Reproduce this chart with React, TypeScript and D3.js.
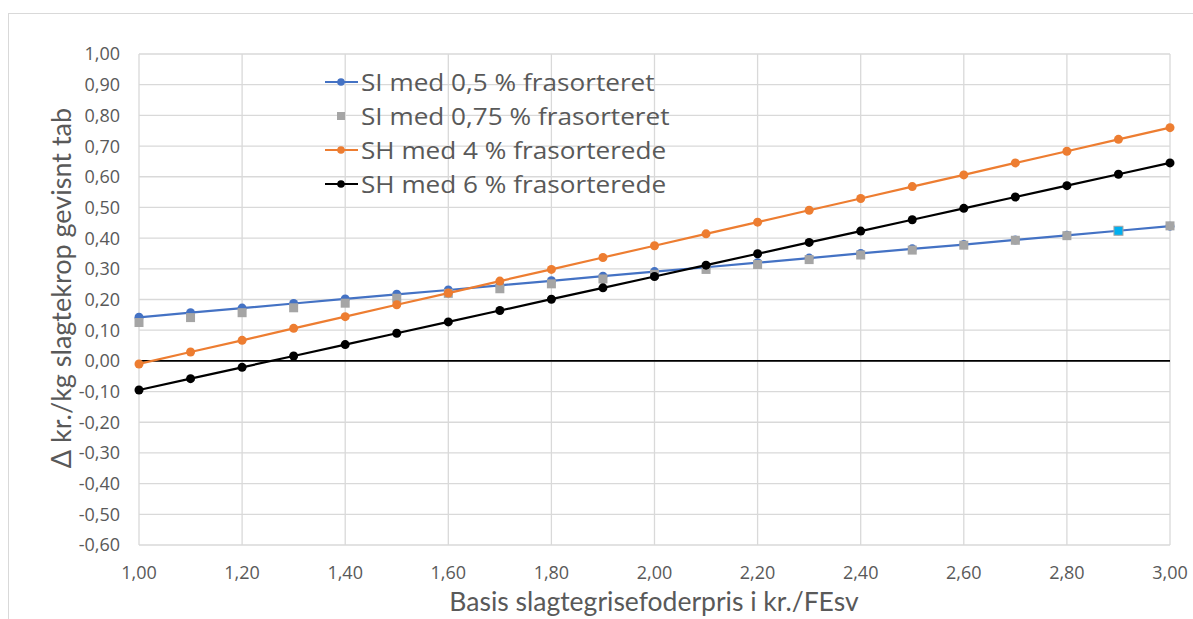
import React from "react";
import * as d3 from "d3";

const xValues = [1.0, 1.1, 1.2, 1.3, 1.4, 1.5, 1.6, 1.7, 1.8, 1.9, 2.0, 2.1, 2.2, 2.3, 2.4, 2.5, 2.6, 2.7, 2.8, 2.9, 3.0];
const siHalf = [0.142, 0.157, 0.172, 0.187, 0.202, 0.217, 0.231, 0.246, 0.261, 0.276, 0.291, 0.305, 0.32, 0.335, 0.35, 0.365, 0.379, 0.394, 0.409, 0.424, 0.439];
const siThreeQuarter = [0.125, 0.141, 0.157, 0.173, 0.188, 0.204, 0.22, 0.235, 0.251, 0.267, 0.282, 0.298, 0.314, 0.33, 0.345, 0.361, 0.377, 0.393, 0.408, 0.424, 0.44];
const shFour = [-0.01, 0.029, 0.067, 0.106, 0.144, 0.183, 0.221, 0.26, 0.298, 0.337, 0.375, 0.414, 0.452, 0.491, 0.529, 0.568, 0.606, 0.645, 0.683, 0.722, 0.76];
const shSix = [-0.095, -0.058, -0.021, 0.016, 0.053, 0.09, 0.127, 0.164, 0.201, 0.238, 0.275, 0.312, 0.349, 0.386, 0.423, 0.46, 0.497, 0.534, 0.571, 0.608, 0.645];
const seriesNames = ["SI med 0,5 % frasorteret", "SI med 0,75 % frasorteret", "SH med 4 % frasorterede", "SH med 6 % frasorterede"];
const xTicks = [1.0, 1.2, 1.4, 1.6, 1.8, 2.0, 2.2, 2.4, 2.6, 2.8, 3.0];
const yTicks = [1.0, 0.9, 0.8, 0.7, 0.6, 0.5, 0.4, 0.3, 0.2, 0.1, 0.0, -0.1, -0.2, -0.3, -0.4, -0.5, -0.6];
const highlightIndex = 19;

const fmt = (v: number) => v.toFixed(2).replace(".", ",");

export default function App() {
  const W = 1193, H = 619;
  const x = d3.scaleLinear().domain([1, 3]).range([139, 1170]);
  const y = d3.scaleLinear().domain([-0.6, 1.0]).range([545, 54]);
  const line = (vals: number[]) =>
    d3.line<number>().x((_, i) => x(xValues[i])).y((v) => y(v))(vals) || "";

  const gridColor = "#d9d9d9";
  const textColor = "#595959";
  const blue = "#4472C4", grey = "#A5A5A5", orange = "#ED7D31", black = "#000000";
  const legendY = [82, 116, 150, 184];
  const colors = [blue, grey, orange, black];
  const legendX = 361;

  return (
    <svg width={W} height={H} style={{ position: "absolute", left: 0, top: 0, background: "#fff" }}>
      <rect x={0} y={0} width={W} height={H} fill="#fff" />
      <rect x={8.5} y={13.5} width={1200} height={700} fill="none" stroke="#d9d9d9" strokeWidth={1} />
      {xTicks.map((t) => (
        <line key={"gx" + t} x1={x(t)} x2={x(t)} y1={y(1)} y2={y(-0.6)} stroke={gridColor} strokeWidth={1.3} />
      ))}
      {yTicks.map((t) => (
        <line key={"gy" + t} x1={x(1)} x2={x(3)} y1={y(t)} y2={y(t)} stroke={gridColor} strokeWidth={1.3} />
      ))}
      <line x1={x(1)} x2={x(3)} y1={y(0)} y2={y(0)} stroke="#000" strokeWidth={1.8} />
      {yTicks.map((t) => (
        <text key={"ty" + t} x={120} y={y(t)} dy="0.36em" textAnchor="end" fontFamily="'Open Sans', sans-serif" fontSize={18} fill={textColor}>
          {fmt(t)}
        </text>
      ))}
      {xTicks.map((t) => (
        <text key={"tx" + t} x={x(t)} y={579} textAnchor="middle" fontFamily="'Open Sans', sans-serif" fontSize={18} fill={textColor}>
          {fmt(t)}
        </text>
      ))}
      <text x={654} y={611} textAnchor="middle" fontFamily="Lato, sans-serif" fontSize={26.5} fill={textColor}>
        Basis slagtegrisefoderpris i kr./FEsv
      </text>
      <text transform={`translate(71,${288}) rotate(-90)`} textAnchor="middle" fontFamily="Lato, sans-serif" fontSize={27} fill={textColor}>
        Δ kr./kg slagtekrop gevisnt tab
      </text>

      {/* SI 0,5 */}
      <path d={line(siHalf)} fill="none" stroke={blue} strokeWidth={2.2} />
      {siHalf.map((v, i) => (
        <circle key={"b" + i} cx={x(xValues[i])} cy={y(v)} r={4.5} fill={blue} />
      ))}
      {/* SI 0,75 */}
      {siThreeQuarter.map((v, i) => (
        <rect key={"g" + i} x={x(xValues[i]) - 4.5} y={y(v) - 4.5} width={9} height={9}
          fill={i === highlightIndex ? "#00B0F0" : grey} stroke={i === highlightIndex ? grey : "none"} strokeWidth={1} />
      ))}
      {/* SH 4 */}
      <path d={line(shFour)} fill="none" stroke={orange} strokeWidth={2.2} />
      {shFour.map((v, i) => (
        <circle key={"o" + i} cx={x(xValues[i])} cy={y(v)} r={4.5} fill={orange} />
      ))}
      {/* SH 6 */}
      <path d={line(shSix)} fill="none" stroke={black} strokeWidth={2.2} />
      {shSix.map((v, i) => (
        <circle key={"k" + i} cx={x(xValues[i])} cy={y(v)} r={4.5} fill={black} />
      ))}

      {/* legend */}
      {seriesNames.map((name, i) => (
        <g key={"lg" + i}>
          {i !== 1 && <line x1={325} x2={358} y1={legendY[i]} y2={legendY[i]} stroke={colors[i]} strokeWidth={2.2} />}
          {i === 1 ? (
            <rect x={337} y={legendY[i] - 4} width={8} height={8} fill={grey} />
          ) : (
            <circle cx={341} cy={legendY[i]} r={3.8} fill={colors[i]} />
          )}
          <text transform={`translate(${legendX},${legendY[i]}) scale(1.09,1)`} dy="0.36em" fontFamily="'Open Sans', sans-serif" fontSize={24} fill={textColor}>
            {name}
          </text>
        </g>
      ))}
    </svg>
  );
}
